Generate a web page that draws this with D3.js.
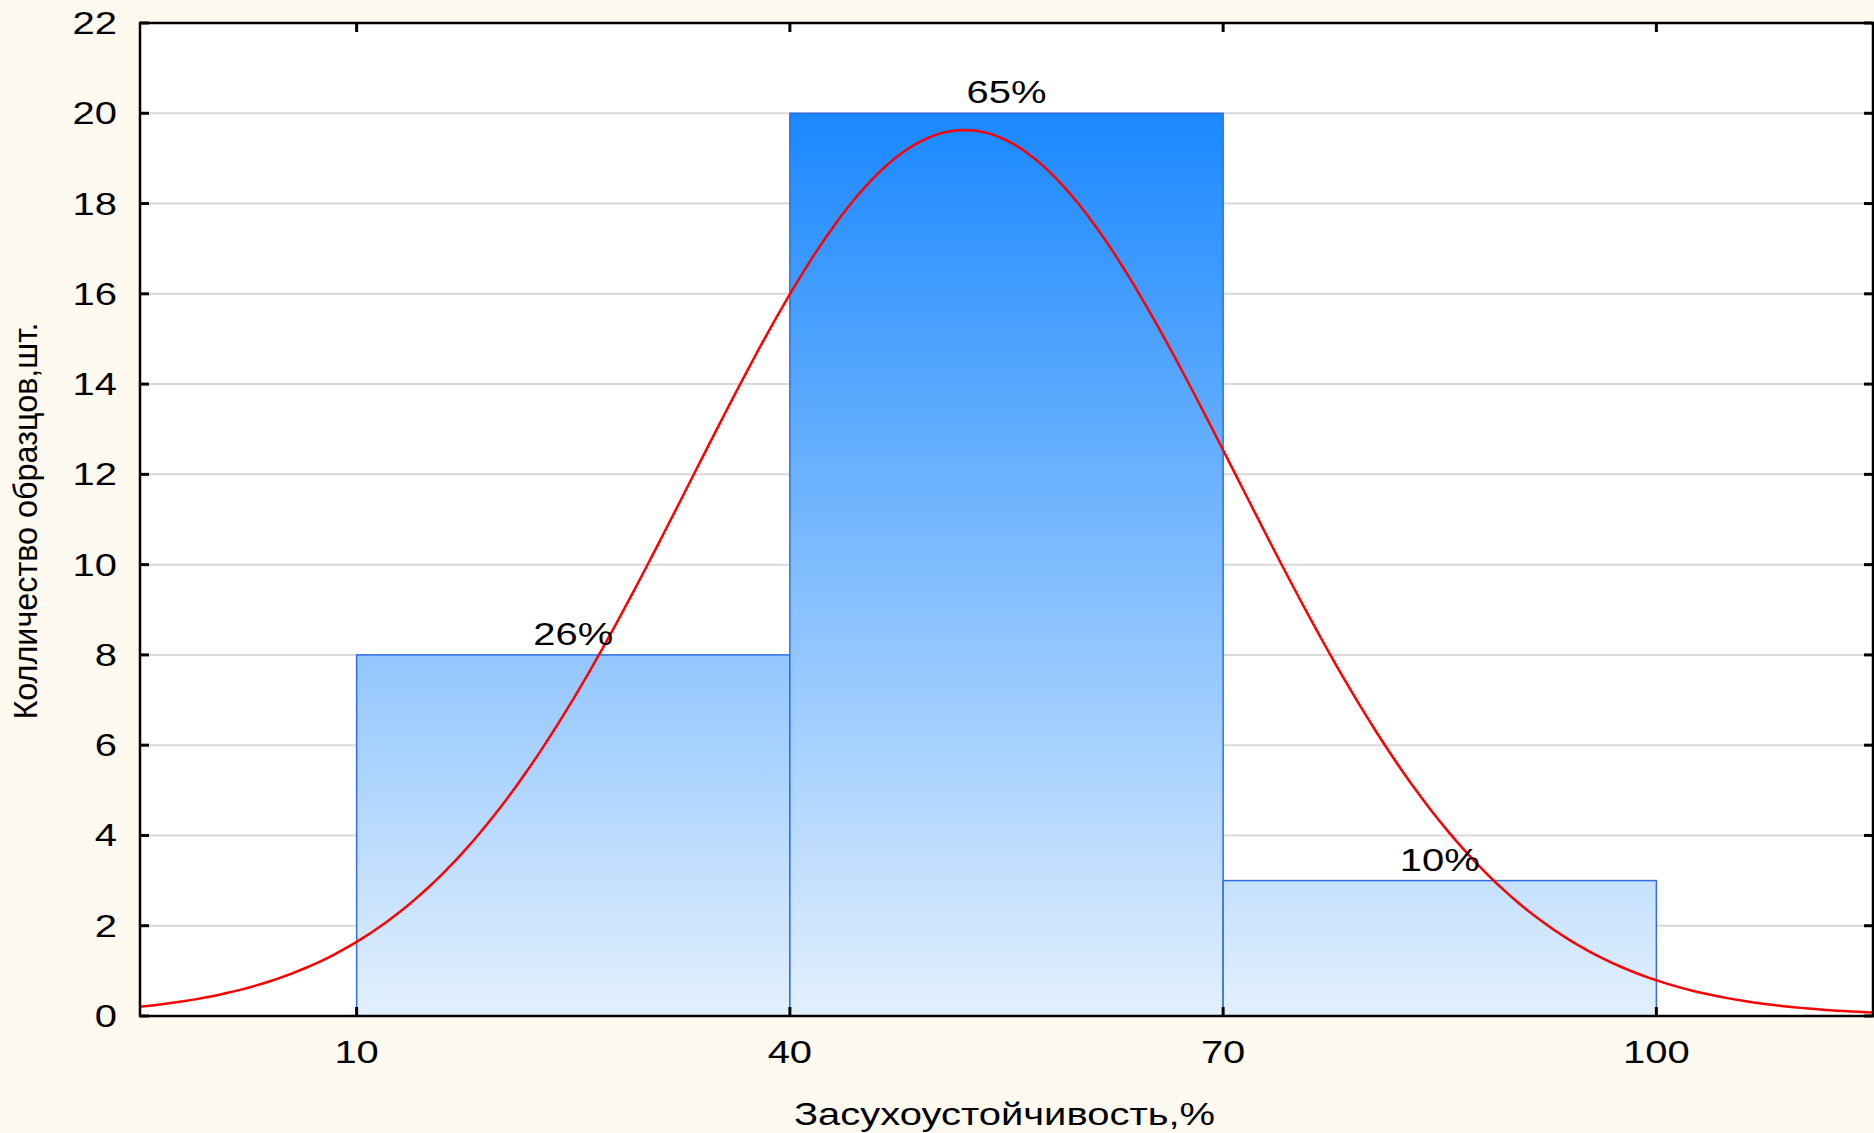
<!DOCTYPE html>
<html>
<head>
<meta charset="utf-8">
<script src="https://cdn.jsdelivr.net/npm/d3@7"></script>
<style>
  html, body { margin: 0; padding: 0; background: #fefaef; }
  svg { display: block; }
  text { font-family: "Liberation Sans", Arial, sans-serif; fill: #000; }
</style>
</head>
<body>
<svg id="chart" width="1874" height="1133"></svg>
<script>
// Histogram of drought tolerance with fitted normal curve
const binEdges = [10, 40, 70, 100];
const counts = [8, 20, 3];
const percentLabels = ["26%", "65%", "10%"];
const xTicks = [10, 40, 70, 100];
const yTicks = [0, 2, 4, 6, 8, 10, 12, 14, 16, 18, 20, 22];
const fitMean = 52.1;
const fitSd = 18.9;
const xTitle = "Засухоустойчивость,%";
const yTitle = "Колличество образцов,шт.";

const W = 1874, H = 1133;
const plotL = 140, plotR = 1873, plotT = 23, plotB = 1016;
const sx = 1.31;       // horizontal stretch of the lettering
const fontSize = 30.5;

const svg = d3.select("#chart");
svg.append("rect").attr("width", W).attr("height", H).attr("fill", "#fefaef");

const x = d3.scaleLinear().domain([-5, 115]).range([plotL, plotR]);
const y = d3.scaleLinear().domain([0, 22]).range([plotB, plotT]);

// plot area
svg.append("rect")
  .attr("x", plotL).attr("y", plotT)
  .attr("width", plotR - plotL).attr("height", plotB - plotT)
  .attr("fill", "#ffffff");

// gridlines
svg.append("g")
  .selectAll("line")
  .data(yTicks.filter(d => d > 0 && d < 22))
  .join("line")
  .attr("x1", plotL).attr("x2", plotR)
  .attr("y1", d => y(d)).attr("y2", d => y(d))
  .attr("stroke", "#d9d9d9").attr("stroke-width", 2);

// bar gradient in plot coordinates
const defs = svg.append("defs");
const grad = defs.append("linearGradient")
  .attr("id", "barFill")
  .attr("gradientUnits", "userSpaceOnUse")
  .attr("x1", 0).attr("x2", 0)
  .attr("y1", y(20)).attr("y2", y(0));
grad.append("stop").attr("offset", "0%").attr("stop-color", "#1a88ff");
grad.append("stop").attr("offset", "100%").attr("stop-color", "#e3f0fd");

const bins = counts.map((c, i) => ({ x0: binEdges[i], x1: binEdges[i + 1], count: c, label: percentLabels[i] }));

svg.append("g")
  .selectAll("rect")
  .data(bins)
  .join("rect")
  .attr("x", d => x(d.x0))
  .attr("y", d => y(d.count))
  .attr("width", d => x(d.x1) - x(d.x0))
  .attr("height", d => y(0) - y(d.count))
  .attr("fill", "url(#barFill)")
  .attr("stroke", "#2f6ee0")
  .attr("stroke-width", 1.5);

// fitted normal curve, scaled to counts × bin width
const total = d3.sum(counts);
const binWidth = binEdges[1] - binEdges[0];
const normal = v => total * binWidth * Math.exp(-0.5 * ((v - fitMean) / fitSd) ** 2) / (fitSd * Math.sqrt(2 * Math.PI));
const curveX = d3.range(-5, 115.01, 0.5);
svg.append("path")
  .datum(curveX)
  .attr("fill", "none")
  .attr("stroke", "#ff0000")
  .attr("stroke-width", 2.5)
  .attr("d", d3.line().x(d => x(d)).y(d => y(normal(d))));

// horizontally stretched text helper
function hText(g, px, py, str, anchor) {
  return g.append("text")
    .attr("transform", `translate(${px},${py}) scale(${sx},1)`)
    .attr("text-anchor", anchor)
    .attr("font-size", fontSize)
    .text(str);
}

// percentage labels above bars
const labelG = svg.append("g");
bins.forEach(b => hText(labelG, x((b.x0 + b.x1) / 2), y(b.count) - 10, b.label, "middle"));

// frame
svg.append("rect")
  .attr("x", plotL).attr("y", plotT)
  .attr("width", plotR - plotL).attr("height", plotB - plotT)
  .attr("fill", "none").attr("stroke", "#000").attr("stroke-width", 2.5);

// inward ticks on all four sides
const tickLen = 9;
const tg = svg.append("g").attr("stroke", "#000").attr("stroke-width", 3);
xTicks.forEach(t => {
  tg.append("line").attr("x1", x(t)).attr("x2", x(t)).attr("y1", plotB).attr("y2", plotB - tickLen);
  tg.append("line").attr("x1", x(t)).attr("x2", x(t)).attr("y1", plotT).attr("y2", plotT + tickLen);
});
yTicks.forEach(t => {
  tg.append("line").attr("x1", plotL).attr("x2", plotL + tickLen).attr("y1", y(t)).attr("y2", y(t));
  tg.append("line").attr("x1", plotR).attr("x2", plotR - tickLen).attr("y1", y(t)).attr("y2", y(t));
});

// tick labels
const tl = svg.append("g");
xTicks.forEach(t => hText(tl, x(t), 1063, String(t), "middle"));
yTicks.forEach(t => hText(tl, 117, y(t) + 11, String(t), "end"));

// axis titles
hText(svg, (plotL + plotR) / 2 - 2, 1125, xTitle, "middle");
svg.append("text")
  .attr("transform", "translate(37,521) rotate(-90)")
  .attr("text-anchor", "middle")
  .attr("font-size", 33)
  .attr("textLength", 397)
  .attr("lengthAdjust", "spacingAndGlyphs")
  .text(yTitle);
</script>
</body>
</html>
